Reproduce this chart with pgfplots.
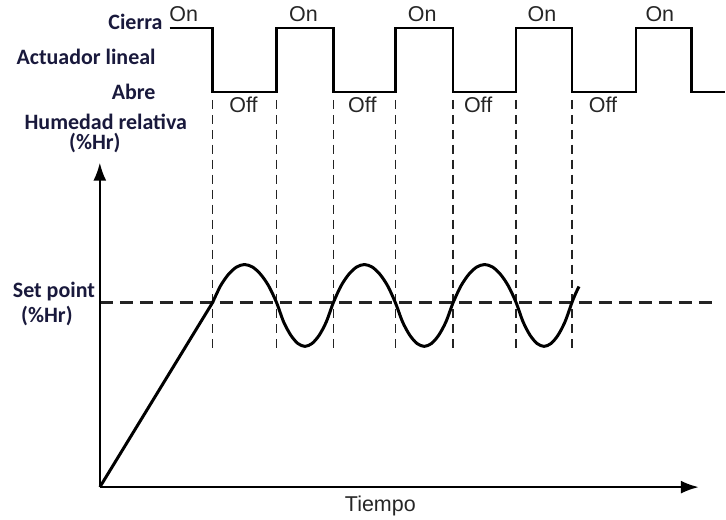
\documentclass[border=0pt]{standalone}
\usepackage{pgfplots}
\pgfplotsset{compat=1.18}
\usepackage{fontspec}
\setmainfont{Liberation Sans}
\newfontfamily\calib{Carlito}
\usetikzlibrary{arrows.meta}
\definecolor{lab}{RGB}{25,25,60}
\definecolor{dsh}{RGB}{35,35,35}
\begin{document}
\begin{tikzpicture}
\begin{axis}[scale only axis, width=726pt, height=520pt,
  xmin=0, xmax=726, ymin=0, ymax=520, hide axis, clip=false]
\addplot[draw=none] coordinates {(0,0) (726,520)};
% actuator square wave
\addplot[black, line width=2.6pt, line join=miter] coordinates {
(170,492) (213,492) (213,428) (277,428) (277,492) (334,492) (334,428)
(396,428) (396,492) (454,492) (454,428) (517,428) (517,492) (573,492)
(573,428) (637,428) (637,492) (693,492) (693,428) (726,428)};
% vertical dashed lines
\addplot[dsh, line width=1.6pt, dash pattern=on 9pt off 6pt] coordinates {(213,420) (213,170)};
\addplot[dsh, line width=1.6pt, dash pattern=on 9pt off 6pt] coordinates {(277,420) (277,170)};
\addplot[dsh, line width=1.6pt, dash pattern=on 9pt off 6pt] coordinates {(334,420) (334,170)};
\addplot[dsh, line width=1.6pt, dash pattern=on 9pt off 6pt] coordinates {(396,420) (396,170)};
\addplot[dsh, line width=1.6pt, dash pattern=on 9pt off 6pt] coordinates {(454,420) (454,170)};
\addplot[dsh, line width=1.6pt, dash pattern=on 9pt off 6pt] coordinates {(517,420) (517,170)};
\addplot[dsh, line width=1.6pt, dash pattern=on 9pt off 6pt] coordinates {(573,420) (573,170)};
% set point dashed line
\addplot[dsh, line width=2.2pt, dash pattern=on 13pt off 7pt] coordinates {(100,217) (715,217)};
% axes
\addplot[black, line width=2pt, -{Latex[length=18pt,width=13pt]}] coordinates {(100,32) (100,357)};
\addplot[black, line width=2pt, -{Latex[length=18pt,width=13pt]}] coordinates {(100,32) (700,32)};
% humidity ramp
\addplot[black, line width=3pt] coordinates {(100,32) (213.5,217.8)};
% humidity oscillation
\addplot[black, line width=3pt, smooth] coordinates {
(213,217) (221,233.8) (229,245.3) (237,252.5) (245,255) (253,252.5) (261,245.3) (269,233.8) (277,217)
(284.1,197.6) (291.3,184.2) (298.4,175.9) (305.5,173) (312.6,175.9) (319.8,184.2) (326.9,197.6) (334,217)
(341.75,233.8) (349.5,245.3) (357.25,252.5) (365,255) (372.75,252.5) (380.5,245.3) (388.25,233.8) (396,217)
(403.25,197.6) (410.5,184.2) (417.75,175.9) (425,173) (432.25,175.9) (439.5,184.2) (446.75,197.6) (454,217)
(461.9,233.8) (469.75,245.3) (477.6,252.5) (485.5,255) (493.4,252.5) (501.25,245.3) (509.1,233.8) (517,217)
(524,197.6) (531,184.2) (538,175.9) (545,173) (552,175.9) (559,184.2) (566,197.6) (573,217)
(576.5,225.6) (580,233)};
% labels
\tikzset{bl/.style={font=\calib\bfseries\fontsize{22}{26}\selectfont, text=lab, inner sep=0pt},
         al/.style={font=\fontsize{21.5}{25}\selectfont, text=black!85, inner sep=0pt}}
\node[bl, anchor=base east] at (axis cs:163,490) {Cierra};
\node[bl, anchor=base east] at (axis cs:156,455) {Actuador lineal};
\node[bl, anchor=base east] at (axis cs:156,420) {Abre};
\node[bl, anchor=base] at (axis cs:106,390) {Humedad relativa};
\node[bl, anchor=base] at (axis cs:95,370) {(\%Hr)};
\node[bl, anchor=base] at (axis cs:54,222) {Set point};
\node[bl, anchor=base] at (axis cs:47,197) {(\%Hr)};
\node[al, anchor=base] at (axis cs:184,498) {On};
\node[al, anchor=base] at (axis cs:304,498) {On};
\node[al, anchor=base] at (axis cs:423,498) {On};
\node[al, anchor=base] at (axis cs:543,498) {On};
\node[al, anchor=base] at (axis cs:661,498) {On};
\node[al, anchor=base] at (axis cs:244,407) {Off};
\node[al, anchor=base] at (axis cs:363,407) {Off};
\node[al, anchor=base] at (axis cs:479,407) {Off};
\node[al, anchor=base] at (axis cs:604,407) {Off};
\node[al, anchor=base] at (axis cs:381,8) {Tiempo};
\end{axis}
\end{tikzpicture}
\end{document}
